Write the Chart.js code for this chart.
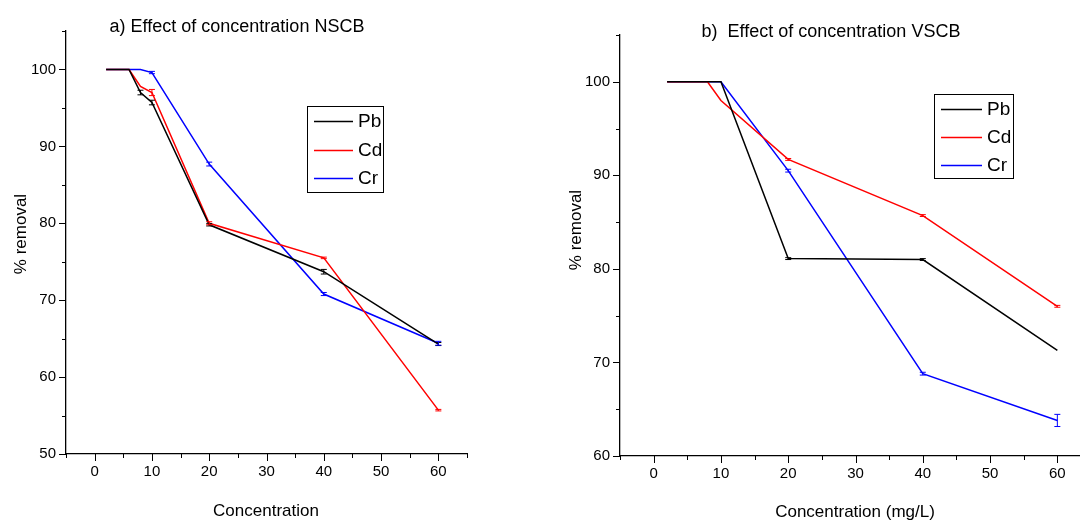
<!DOCTYPE html>
<html lang="en">
<head>
<meta charset="UTF-8">
<title>Effect of concentration</title>
<script src="https://cdn.jsdelivr.net/npm/chart.js"></script>
<style>
  html, body { margin: 0; padding: 0; background: #fff; overflow: hidden; width: 1080px; height: 523px; }
  canvas { position: absolute; top: 0; }
  #chartA { left: 0; }
  #chartB { left: 540px; }
</style>
</head>
<body>
<canvas id="chartA" width="540" height="523"></canvas>
<canvas id="chartB" width="600" height="523"></canvas>
<script>
// a) NSCB - concentration vs % removal
const concA = [2, 6, 8, 10, 20, 40, 60];
const pbA = [100, 100, 97.0, 95.7, 79.8, 73.7, 64.3];
const cdA = [100, 100, 97.8, 97.0, 80.0, 75.5, 55.7];
const crA = [100, 100, 100, 99.6, 87.7, 70.8, 64.4];
const pbErrA = [0, 0, 0.3, 0.3, 0.15, 0.3, 0.2];
const cdErrA = [0, 0, 0, 0.4, 0.2, 0.1, 0.1];
const crErrA = [0, 0, 0, 0.15, 0.25, 0.2, 0.25];

// b) VSCB
const concB = [2, 8, 10, 20, 40, 60];
const pbB = [100, 100, 100, 81.1, 81.0, 71.3];
const cdB = [100, 100, 98.0, 91.7, 85.7, 76.0];
const crB = [100, 100, 100, 90.5, 68.8, 63.8];
const pbErrB = [0, 0, 0, 0.1, 0.1, 0];
const cdErrB = [0, 0, 0, 0.1, 0.1, 0.1];
const crErrB = [0, 0, 0, 0.15, 0.15, 0.65];

const metals = ['Pb', 'Cd', 'Cr'];
const colors = ['#000000', '#ff0000', '#0000ff'];

const FONT = '"Liberation Sans", Arial, sans-serif';
Chart.defaults.color = '#000';
Chart.defaults.font.family = FONT;

// error bars, tick marks, titles and the boxed legend
const decor = {
  id: 'decor',
  afterDatasetsDraw(chart) {
    const ctx = chart.ctx, ys = chart.scales.y;
    chart.data.datasets.forEach((ds, i) => {
      const meta = chart.getDatasetMeta(i);
      ctx.save();
      ctx.strokeStyle = ds.borderColor;
      ctx.lineWidth = 1;
      ctx.beginPath();
      meta.data.forEach((pt, j) => {
        const e = ds.errors[j];
        if (!e) return;
        const v = ds.data[j].y;
        const y1 = ys.getPixelForValue(v + e), y2 = ys.getPixelForValue(v - e);
        ctx.moveTo(pt.x, y1); ctx.lineTo(pt.x, y2);
        ctx.moveTo(pt.x - 3, y1); ctx.lineTo(pt.x + 3, y1);
        ctx.moveTo(pt.x - 3, y2); ctx.lineTo(pt.x + 3, y2);
      });
      ctx.stroke();
      ctx.restore();
    });
  },
  afterDraw(chart, args, o) {
    const ctx = chart.ctx, xs = chart.scales.x, ys = chart.scales.y, ca = chart.chartArea;
    ctx.save();
    // tick marks (major every 10, minor every 5)
    ctx.strokeStyle = '#000';
    ctx.lineWidth = 1;
    ctx.beginPath();
    xs.ticks.forEach(t => {
      const px = Math.round(xs.getPixelForValue(t.value)) + 0.5;
      const len = t.value % 10 === 0 ? 7 : 4;
      ctx.moveTo(px, ca.bottom); ctx.lineTo(px, ca.bottom + len);
    });
    ys.ticks.forEach(t => {
      const py = Math.round(ys.getPixelForValue(t.value)) + 0.5;
      const len = t.value % 10 === 0 ? 7 : 4;
      ctx.moveTo(ca.left, py); ctx.lineTo(ca.left - len, py);
    });
    ctx.stroke();

    // titles
    ctx.fillStyle = '#000';
    ctx.textAlign = 'center';
    ctx.textBaseline = 'middle';
    ctx.font = '18px ' + FONT;
    ctx.fillText(o.title, o.titleX, o.titleY);
    ctx.font = '17px ' + FONT;
    ctx.fillText(o.xTitle, o.xTitleX, o.xTitleY);
    ctx.save();
    ctx.translate(o.yTitleX, o.yTitleY);
    ctx.rotate(-Math.PI / 2);
    ctx.fillText(o.yTitle, 0, 0);
    ctx.restore();

    // legend box
    const lg = o.legend;
    ctx.fillStyle = '#fff';
    ctx.fillRect(lg.x, lg.y, lg.w, lg.h);
    ctx.strokeStyle = '#000';
    ctx.lineWidth = 1;
    ctx.strokeRect(lg.x + 0.5, lg.y + 0.5, lg.w, lg.h);
    ctx.textAlign = 'left';
    ctx.font = '19px ' + FONT;
    chart.data.datasets.forEach((ds, i) => {
      const ry = lg.rows[i];
      ctx.strokeStyle = ds.borderColor;
      ctx.lineWidth = 1.5;
      ctx.beginPath();
      ctx.moveTo(lg.x1, ry + 0.5); ctx.lineTo(lg.x2, ry + 0.5);
      ctx.stroke();
      ctx.fillStyle = '#000';
      ctx.fillText(ds.label, lg.tx, ry + 1);
    });
    ctx.restore();
  }
};

function makeChart(id, conc, series, errs, cfg) {
  const datasets = series.map((s, i) => ({
    label: metals[i],
    data: conc.map((c, j) => ({ x: c, y: s[j] })),
    errors: errs[i],
    borderColor: colors[i],
    backgroundColor: colors[i],
    borderWidth: 1.5,
    pointRadius: 0,
    tension: 0
  }));
  return new Chart(document.getElementById(id), {
    type: 'line',
    data: { datasets },
    plugins: [decor],
    options: {
      responsive: false,
      animation: false,
      devicePixelRatio: 1,
      layout: { padding: cfg.padding },
      plugins: {
        legend: { display: false },
        tooltip: { enabled: false },
        decor: cfg.decor
      },
      scales: {
        x: {
          type: 'linear',
          min: -5, max: 65,
          afterFit: s => { s.height = cfg.xh; },
          ticks: {
            stepSize: 5, autoSkip: false, maxRotation: 0, padding: 1,
            font: { size: 15 },
            callback: v => (v % 10 === 0 ? v : '')
          },
          grid: { display: false },
          border: { display: true, color: '#000', width: 1.3 }
        },
        y: {
          min: cfg.ymin, max: 105,
          afterFit: s => { s.width = cfg.yw; },
          ticks: {
            stepSize: 5, autoSkip: false, padding: 2,
            font: { size: 15 },
            callback: v => (v % 10 === 0 ? v : '')
          },
          grid: { display: false },
          border: { display: true, color: '#000', width: 1.3 }
        }
      }
    }
  });
}

makeChart('chartA', concA, [pbA, cdA, crA], [pbErrA, cdErrA, crErrA], {
  padding: { left: 0, top: 31, right: 73, bottom: 0 },
  xh: 69, yw: 66, ymin: 50,
  decor: {
    title: 'a) Effect of concentration NSCB', titleX: 237, titleY: 27,
    xTitle: 'Concentration', xTitleX: 266, xTitleY: 511,
    yTitle: '% removal', yTitleX: 21, yTitleY: 234,
    legend: { x: 307, y: 106, w: 76, h: 86, x1: 314, x2: 353, tx: 358, rows: [121, 150, 178] }
  }
});

makeChart('chartB', concB, [pbB, cdB, crB], [pbErrB, cdErrB, crErrB], {
  padding: { left: 0, top: 35, right: 49, bottom: 0 },
  xh: 67, yw: 80, ymin: 60,
  decor: {
    title: 'b)  Effect of concentration VSCB', titleX: 291, titleY: 32,
    xTitle: 'Concentration (mg/L)', xTitleX: 315, xTitleY: 512,
    yTitle: '% removal', yTitleX: 36, yTitleY: 230,
    legend: { x: 394, y: 94, w: 79, h: 84, x1: 401, x2: 442, tx: 447, rows: [109, 137, 165] }
  }
});
</script>
</body>
</html>
